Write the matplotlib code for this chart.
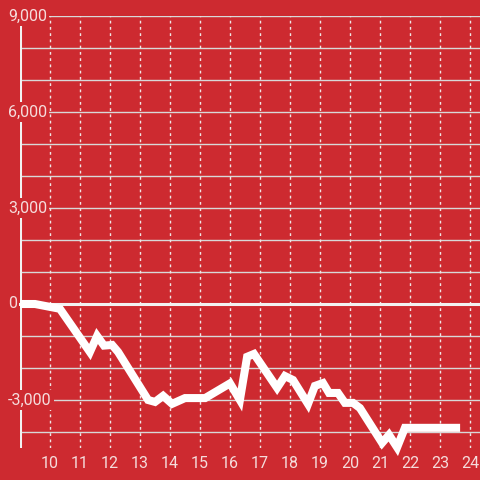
import matplotlib
matplotlib.use("Agg")
import matplotlib.pyplot as plt

# hora del dia vs valor acumulado
horas = [9.0, 9.5, 10.33, 11.33, 11.57, 11.8, 12.07, 12.27, 13.27, 13.5, 13.77,
         14.07, 14.5, 15.17, 16.0, 16.33, 16.57, 16.8, 17.57, 17.83, 18.1, 18.6,
         18.83, 19.1, 19.3, 19.6, 19.83, 20.1, 20.33, 21.07, 21.3, 21.57, 21.83, 23.67]
valores = [0, 0, -150, -1500, -1000, -1300, -1280, -1500, -3000, -3060, -2870,
           -3120, -2940, -2940, -2480, -3000, -1650, -1560, -2620, -2250, -2375, -3125,
           -2560, -2470, -2780, -2780, -3090, -3090, -3250, -4340, -4090, -4480, -3870, -3870]

xticks = list(range(10, 25))
yticks = [-3000, 0, 3000, 6000, 9000]
ylabels = ["-3,000", "0", "3,000", "6,000", "9,000"]
ygrid = list(range(-4000, 10000, 1000))

fondo = "#cd2a30"
texto = "#f5dcdc"

plt.rcParams['font.family'] = ['Roboto', 'DejaVu Sans']

fig = plt.figure(figsize=(4.8, 4.8), dpi=100)
fig.patch.set_facecolor(fondo)
ax = fig.add_axes([20/480, 32/480, 460/480, 432/480])
ax.set_facecolor(fondo)
ax.set_xlim(9, 24.333)
ax.set_ylim(-4500, 9000)

for s in ax.spines.values():
    s.set_visible(False)

# lineas horizontales de la rejilla
for g in ygrid:
    if g != 0:
        ax.axhline(g, color="#d8d8d8", lw=1, zorder=1)

# rejilla vertical punteada
for t in xticks:
    ax.axvline(t, color="#f0e6e6", lw=1, ls=(0, (2, 2.5)), zorder=1)

# eje y y linea del cero
ax.axvline(9, ymin=0, ymax=1 - 8/432, color="#f2f2f2", lw=2.2, zorder=2)
ax.axhline(0, xmin=-12/460, xmax=1, color="#f2f2f2", lw=2.2, zorder=2, clip_on=False)

ax.plot(horas, valores, color="white", lw=5.8, solid_capstyle="butt",
        solid_joinstyle="miter", zorder=5, clip_on=False)

ax.set_xticks(xticks)
ax.set_xticklabels([str(t) for t in xticks])
ax.set_yticks([])
ax.tick_params(axis="x", length=0, pad=6, labelsize=11.5, labelcolor=texto)

for v, l in zip(yticks, ylabels):
    x0 = -12/460 if l == "0" else -12/460
    ax.text(x0, v, l, transform=ax.get_yaxis_transform(), ha="left", va="center",
            fontsize=11.5, color=texto, zorder=4, clip_on=False,
            bbox=dict(facecolor=fondo, edgecolor="none", pad=1.5))

fig.savefig("out.png", dpi=100, facecolor=fondo)
